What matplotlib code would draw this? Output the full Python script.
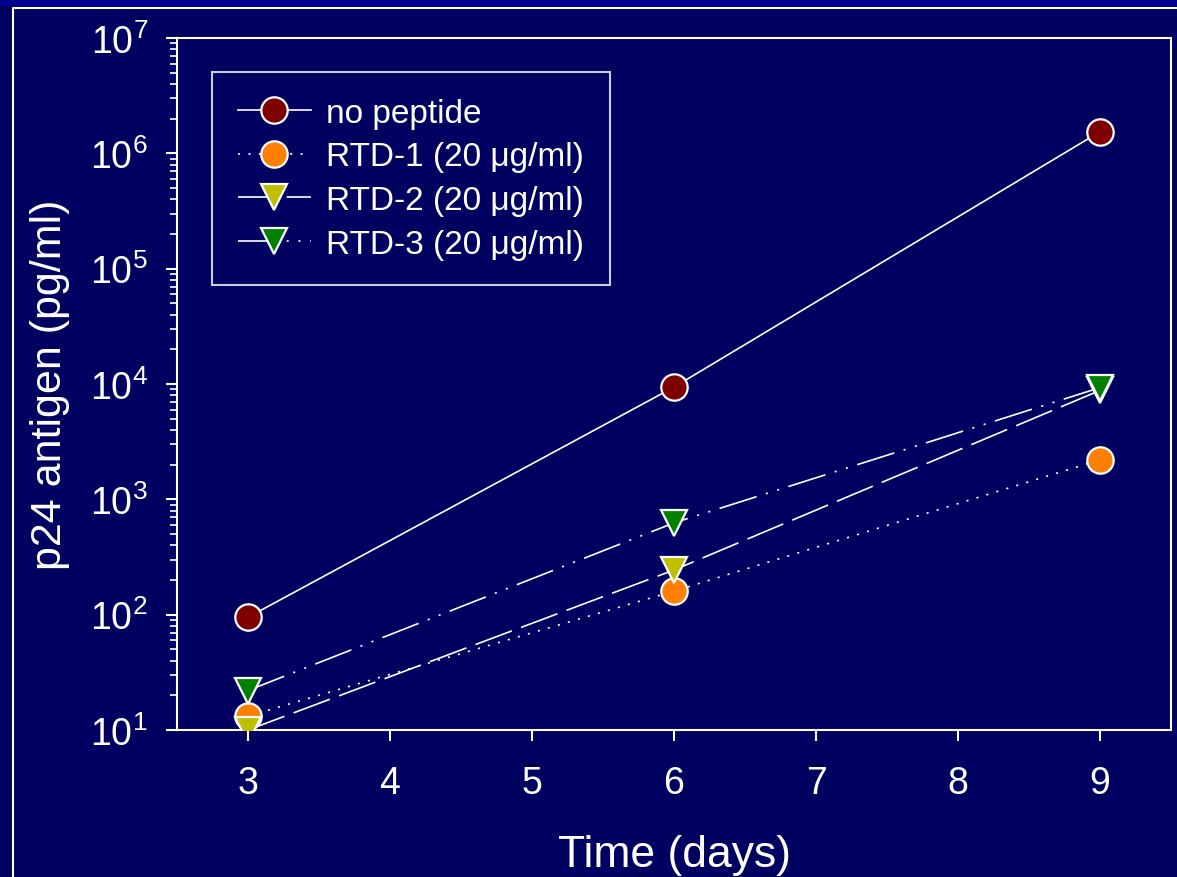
import matplotlib
matplotlib.use("Agg")
import matplotlib.pyplot as plt
from matplotlib.patches import Rectangle
from matplotlib.lines import Line2D

plt.rcParams["font.family"] = ["Liberation Sans", "DejaVu Sans"]
plt.rcParams["mathtext.fontset"] = "custom"
plt.rcParams["mathtext.rm"] = "Liberation Sans"
plt.rcParams["mathtext.it"] = "Liberation Sans"
plt.rcParams["lines.scale_dashes"] = False

BG = "#000060"

# data (p24 antigen, pg/ml)
days = [3, 6, 9]
no_peptide = [95, 9400, 1.54e6]
rtd1 = [13.2, 160, 2200]
rtd2 = [10, 244, 8800]
rtd3 = [22, 625, 9300]

labels = ["no peptide", "RTD-1 (20 \u03bcg/ml)", "RTD-2 (20 \u03bcg/ml)", "RTD-3 (20 \u03bcg/ml)"]

fig = plt.figure(figsize=(11.77, 8.78), dpi=100, facecolor=BG)
ax = fig.add_axes([177 / 1177, 1 - 731 / 878, (1171 - 177) / 1177, (731 - 39) / 878])
ax.set_facecolor(BG)

# slide decorations: brighter strip on top and a white frame
fig.patches.append(Rectangle((0, 1 - 7 / 878), 1, 7 / 878, transform=fig.transFigure,
                             facecolor="#00008c", edgecolor="none", zorder=0))
fig.lines.append(Line2D([13 / 1177, 13 / 1177, 1.0], [0, 1 - 8.5 / 878, 1 - 8.5 / 878],
                        transform=fig.transFigure, color="white", lw=1.5))

ms = 19
mew = 1.6
lw = 1.2
ax.plot(days, no_peptide, color="white", lw=lw, ls="-", marker="o", ms=ms,
        mfc="#7f0000", mec="white", mew=mew, label=labels[0], zorder=3)
ax.plot(days, rtd1, color="white", lw=lw, ls=(0, (1.5, 6)), marker="o", ms=ms,
        mfc="#ff8000", mec="white", mew=mew, label=labels[1], zorder=3)
ax.plot(days, rtd2, color="white", lw=lw, ls=(0, (28, 7)), marker="v", ms=ms,
        mfc="#bfbf00", mec="white", mew=mew, label=labels[2], zorder=3)
ax.plot(days, rtd3, color="white", lw=lw, ls=(0, (28, 7, 1.5, 7, 1.5, 7)), marker="v", ms=ms,
        mfc="#008000", mec="white", mew=mew, label=labels[3], zorder=3)

ax.set_yscale("log")
ax.set_ylim(10, 1e7)
ax.set_xlim(2.5, 9.5)
ax.set_xticks([3, 4, 5, 6, 7, 8, 9])

for s in ax.spines.values():
    s.set_color("white")
    s.set_linewidth(1.5)

ax.tick_params(axis="both", which="major", colors="white", labelsize=27, length=8, width=1.5, pad=13)
ax.tick_params(axis="x", which="major", pad=17)
ax.tick_params(axis="y", which="minor", colors="white", length=5, width=1.2)

ax.set_xlabel("Time (days)", color="white", fontsize=32, labelpad=24)
ax.set_ylabel("p24 antigen (pg/ml)", color="white", fontsize=31, labelpad=14)

leg = ax.legend(loc="upper left", bbox_to_anchor=(35 / 994, 1 - 34 / 692), fontsize=24,
                frameon=True, fancybox=False, facecolor=BG, edgecolor="white",
                handlelength=2.2, handletextpad=0.45, labelspacing=0.38, borderpad=0.77,
                borderaxespad=0)
leg.get_frame().set_linewidth(1.5)
for t in leg.get_texts():
    t.set_color("white")

fig.savefig("out.png", dpi=100, facecolor=BG)
